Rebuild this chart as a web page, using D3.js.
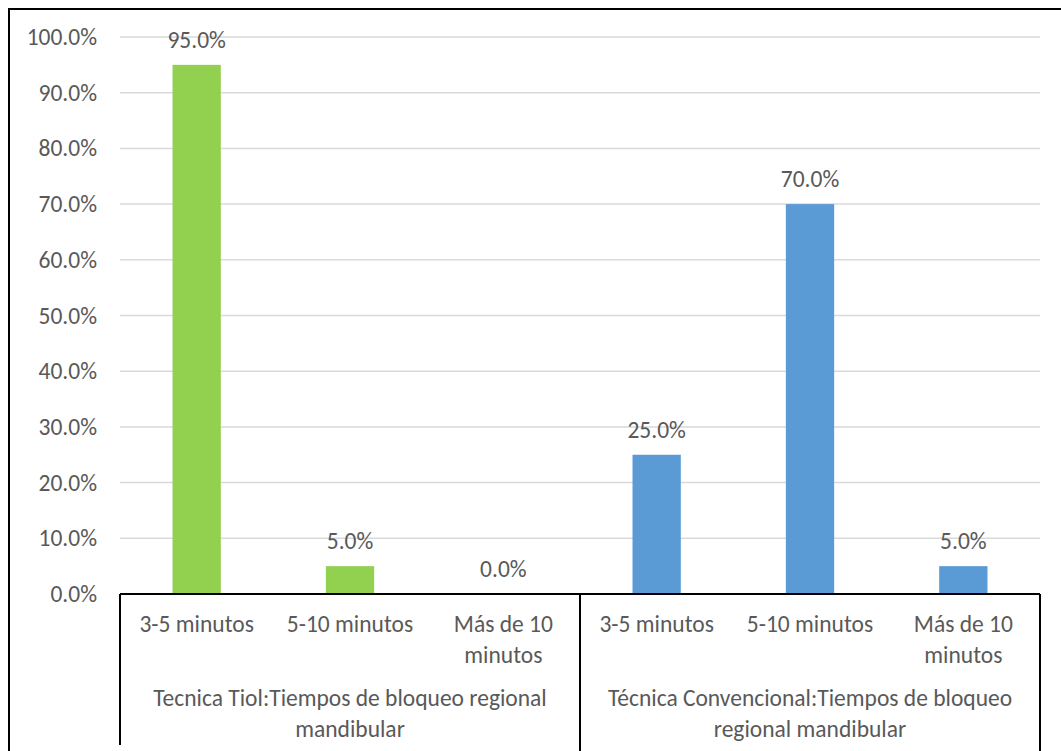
<!DOCTYPE html>
<html>
<head>
<meta charset="utf-8">
<script src="https://cdn.jsdelivr.net/npm/d3@7"></script>
<style>
  html, body { margin: 0; padding: 0; background: #fff; }
  svg { display: block; }
  text { font-family: Carlito, Lato, "Open Sans", sans-serif; fill: #595959; }
</style>
</head>
<body>
<svg id="chart" width="1061" height="751"></svg>
<script>
// Time to reach regional mandibular block, by technique
const intervals = ["3-5 minutos", "5-10 minutos", "Más de 10 minutos"];
const groups = [
  "Tecnica Tiol:Tiempos de bloqueo regional mandibular",
  "Técnica Convencional:Tiempos de bloqueo regional mandibular"
];
const tiolValues = [95.0, 5.0, 0.0];
const convencionalValues = [25.0, 70.0, 5.0];
const groupColors = ["#92D050", "#5B9BD5"];
const yTicks = [0, 10, 20, 30, 40, 50, 60, 70, 80, 90, 100];

// Label lines for wrapped text
const intervalLines = { "Más de 10 minutos": ["Más de 10", "minutos"] };
const groupLines = [
  ["Tecnica Tiol:Tiempos de bloqueo regional", "mandibular"],
  ["Técnica Convencional:Tiempos de bloqueo", "regional mandibular"]
];

const rows = [];
[tiolValues, convencionalValues].forEach((vals, g) => {
  vals.forEach((v, i) => rows.push({ key: g + "|" + i, group: g, interval: intervals[i], value: v }));
});

const svg = d3.select("#chart");
const plotLeft = 120, plotRight = 1040, plotTop = 37, plotBottom = 594;
const fontSize = "23.5px";

const x = d3.scaleBand().domain(rows.map(d => d.key)).range([plotLeft, plotRight]).padding(0);
const y = d3.scaleLinear().domain([0, 100]).range([plotBottom, plotTop]);
const barW = x.bandwidth() * 0.315;

// Outer frame (top and left edges visible)
svg.append("path")
  .attr("d", `M9,751 L9,9 L1061,9`)
  .attr("fill", "none").attr("stroke", "#000").attr("stroke-width", 2);

// Gridlines
svg.append("g").selectAll("line").data(yTicks.filter(t => t > 0)).join("line")
  .attr("x1", plotLeft).attr("x2", plotRight)
  .attr("y1", d => y(d)).attr("y2", d => y(d))
  .attr("stroke", "#d9d9d9").attr("stroke-width", 1.5);

// Y axis labels
const yAxis = d3.axisLeft(y).tickValues(yTicks).tickSize(0).tickPadding(23)
  .tickFormat(d => d3.format(".1f")(d) + "%");
const yg = svg.append("g").attr("transform", `translate(${plotLeft},0)`).call(yAxis);
yg.select(".domain").remove();
yg.selectAll("text").style("font-size", fontSize).attr("fill", "#595959")
  .style("font-family", "Carlito, Lato, 'Open Sans', sans-serif");

// Bars
svg.append("g").selectAll("rect").data(rows).join("rect")
  .attr("x", d => x(d.key) + (x.bandwidth() - barW) / 2)
  .attr("width", barW)
  .attr("y", d => y(d.value))
  .attr("height", d => y(0) - y(d.value))
  .attr("fill", d => groupColors[d.group]);

// Value labels
svg.append("g").selectAll("text").data(rows).join("text")
  .attr("x", d => x(d.key) + x.bandwidth() / 2)
  .attr("y", d => y(d.value) - 17)
  .attr("text-anchor", "middle")
  .style("font-size", fontSize)
  .text(d => d3.format(".1f")(d.value) + "%");

// Category axis box
const axisG = svg.append("g").attr("stroke", "#000").attr("stroke-width", 2);
axisG.append("line").attr("x1", plotLeft).attr("x2", plotRight).attr("y1", plotBottom).attr("y2", plotBottom);
const boundaries = [plotLeft, x(rows[3].key), plotRight];
const ends = [745, 751, 751];
boundaries.forEach((bx, i) => {
  axisG.append("line").attr("x1", bx).attr("x2", bx).attr("y1", plotBottom).attr("y2", ends[i]);
});

// Interval labels
const lab = svg.append("g");
rows.forEach(d => {
  const lines = intervalLines[d.interval] || [d.interval];
  const cx = x(d.key) + x.bandwidth() / 2;
  const t = lab.append("text")
    .attr("x", cx)
    .attr("y", 632)
    .attr("text-anchor", "middle")
    .style("font-size", fontSize);
  lines.forEach((ln, k) => t.append("tspan")
    .attr("x", cx)
    .attr("dy", k === 0 ? 0 : 31)
    .text(ln));
});

// Group labels
groups.forEach((g, gi) => {
  const x0 = x(gi + "|0"), x1 = x(gi + "|2") + x.bandwidth();
  const cx = (x0 + x1) / 2;
  const t = lab.append("text").attr("x", cx).attr("y", 706)
    .attr("text-anchor", "middle").style("font-size", fontSize);
  groupLines[gi].forEach((ln, k) => t.append("tspan")
    .attr("x", cx).attr("dy", k === 0 ? 0 : 31).text(ln));
});
</script>
</body>
</html>
